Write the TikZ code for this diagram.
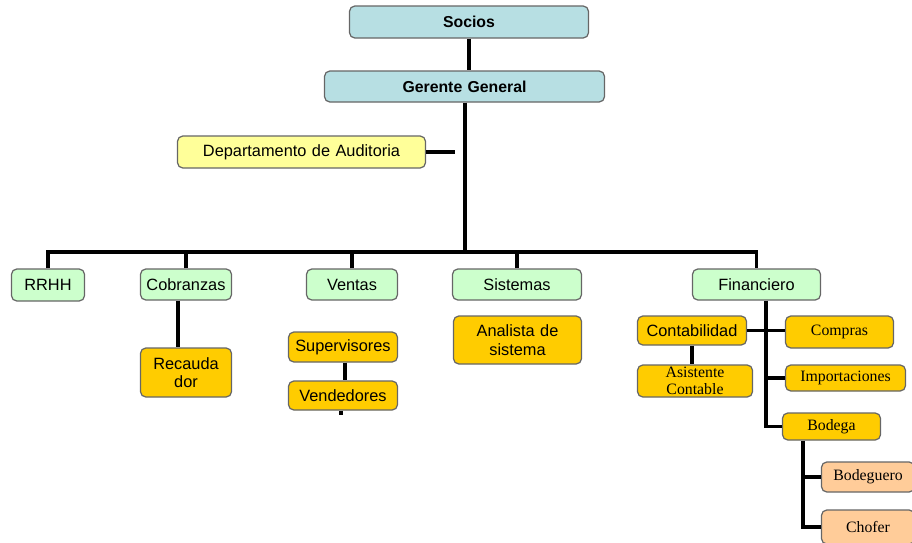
\documentclass[tikz,border=0pt]{standalone}
\usepackage{fontspec}
\setmainfont{Liberation Serif}
\setsansfont{Liberation Sans}
\usetikzlibrary{positioning,calc}
\definecolor{boxedge}{gray}{0.4}
\definecolor{topfill}{RGB}{183,223,227}
\definecolor{auditfill}{RGB}{255,255,153}
\definecolor{areafill}{RGB}{204,255,204}
\definecolor{subfill}{RGB}{255,204,0}
\definecolor{lowfill}{RGB}{255,204,153}
\tikzset{
  unit/.style={
    rectangle, rounded corners=3pt, draw=boxedge, line width=0.7pt,
    inner sep=0pt, align=center, font=\sffamily\fontsize{9.3}{10.5}\selectfont
  },
  top/.style={unit, fill=topfill, font=\sffamily\bfseries\fontsize{9}{10}\selectfont},
  audit/.style={unit, fill=auditfill},
  area/.style={unit, fill=areafill},
  sub/.style={unit, fill=subfill},
  subserif/.style={unit, fill=subfill, font=\rmfamily\fontsize{9}{9.5}\selectfont},
  low/.style={unit, fill=lowfill, font=\rmfamily\fontsize{9}{10}\selectfont},
  link/.style={line width=2.2pt, draw=black}
}

\begin{document}
\begin{tikzpicture}[x=0.02cm, y=-0.02cm]
  \useasboundingbox (0,0) rectangle (912,542);
  \clip (0,0) rectangle (912,542);

  % Direction
  \node[top, text width=4.78cm, minimum height=0.64cm] (socios) at (469,22) {Socios};
  \node[top, text width=5.6cm, minimum height=0.62cm] (gerente) at (464.5,86.5) {Gerente General};
  \node[audit, text width=4.96cm, minimum height=0.64cm] (audit) at (301.5,152) {Departamento de Auditoria};

  % Areas
  \node[area, text width=1.46cm, minimum height=0.64cm] (rrhh) at (48,285) {RRHH};
  \node[area, text width=1.82cm, minimum height=0.62cm] (cobr) at (186,284.5) {Cobranzas};
  \node[area, text width=1.82cm, minimum height=0.62cm] (ventas) at (352,284.5) {Ventas};
  \node[area, text width=2.58cm, minimum height=0.62cm] (sist) at (517,284.5) {Sistemas};
  \node[area, text width=2.56cm, minimum height=0.62cm] (fin) at (756.5,284.5) {Financiero};

  % Sub areas
  \node[sub, text width=1.82cm, minimum height=0.98cm] (recaud) at (186,372.5) {Recauda\\dor};
  \node[sub, text width=2.18cm, minimum height=0.60cm] (super) at (343,347) {Supervisores};
  \node[sub, text width=2.18cm, minimum height=0.58cm] (vend) at (343,395.5) {Vendedores};
  \node[sub, text width=2.56cm, minimum height=0.96cm] (analista) at (517.5,340) {Analista de\\sistema};
  \node[sub, text width=2.18cm, minimum height=0.58cm] (cont) at (692,330.5) {Contabilidad};
  \node[subserif, text width=2.30cm, minimum height=0.64cm] (asist) at (695,381) {Asistente\\Contable};
  \node[subserif, text width=2.16cm, minimum height=0.64cm] (compras) at (839.5,332) {Compras};
  \node[subserif, text width=2.40cm, minimum height=0.52cm] (imp) at (845.5,378) {Importaciones};
  \node[subserif, text width=1.96cm, minimum height=0.54cm] (bodega) at (831.5,426.5) {Bodega};
  \node[low, text width=1.86cm, minimum height=0.60cm] (bodeg) at (868,477) {Bodeguero};
  \node[low, text width=1.86cm, minimum height=0.68cm] (chofer) at (868,527) {Chofer};

  % Main trunk and bus
  \coordinate (bus) at (465,252);
  \coordinate (auditend) at (455,152);
  \draw[link] (socios.south) -- (socios.south |- gerente.north);
  \draw[link] (gerente.south -| bus) -- (bus);
  \draw[link] (audit.east) -- (auditend);
  \draw[link] (rrhh.north) |- (bus) -| (fin.north);
  \draw[link] (cobr.north) -- (cobr.north |- bus);
  \draw[link] (ventas.north) -- (ventas.north |- bus);
  \draw[link] (sist.north) -- (sist.north |- bus);

  % Branches
  \draw[link] ($(cobr.south)+(-8,0)$) -- ($(recaud.north)+(-8,0)$);
  \draw[link] ($(super.north)+(2,0)$) -- ($(super.north)+(2,0)$ |- ventas.south);
  \draw[link] ($(super.south)+(2,0)$) -- ($(vend.north)+(2,0)$);
  \draw[link] ($(vend.south)+(-2,0)$) -- ++(0,4);
  \draw[link] ($(analista.north)+(9.5,0)$) -- ($(analista.north)+(9.5,0)$ |- sist.south);

  % Financiero
  \coordinate (ftop) at ($(fin.south)+(9.5,0)$);
  \draw[link] (ftop) |- (bodega.west);
  \draw[link] (cont.east) -- (compras.west |- cont.east);
  \draw[link] (ftop |- imp.west) -- (imp.west);
  \draw[link] (cont.south) -- (cont.south |- asist.north);
  \coordinate (btop) at ($(bodega.south)+(-28.5,0)$);
  \draw[link] (btop) |- (chofer.west);
  \draw[link] (btop |- bodeg.west) -- (bodeg.west);
\end{tikzpicture}
\end{document}
